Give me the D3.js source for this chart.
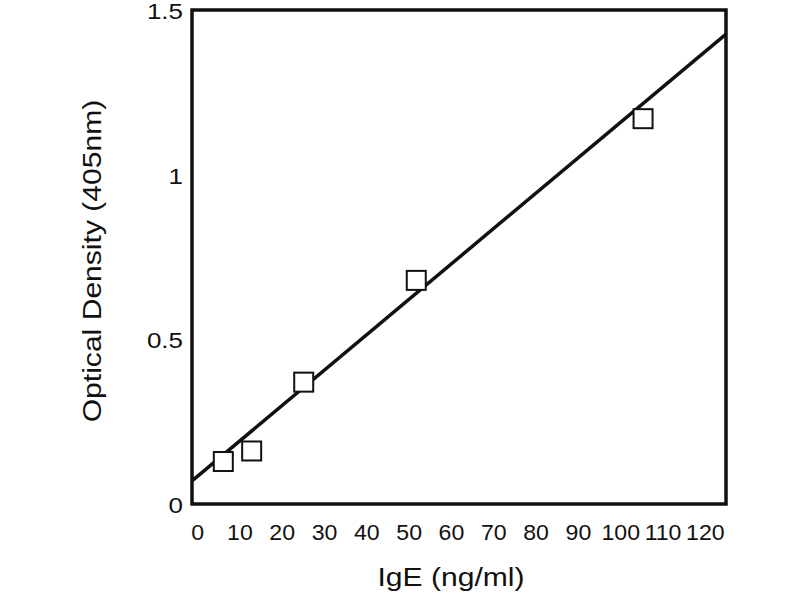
<!DOCTYPE html>
<html>
<head>
    <meta charset="utf-8">
    <style>
        body { margin: 0; background: white; }
        svg { font-family: 'Liberation Sans', Arial, sans-serif; }
    </style>
</head>
<body>
    <svg width="800" height="600"></svg>

<script src="https://d3js.org/d3.v7.min.js"></script>
<script>
    // standard curve points
    let ige = [6.2, 12.9, 25.2, 51.8, 105.4];
    let od = [0.129, 0.161, 0.370, 0.679, 1.170];

    // fitted line, ends at the frame edges
    let fitX = [-1.2, 125.0];
    let fitY = [0.070, 1.427];

    let xTicks = [0, 10, 20, 30, 40, 50, 60, 70, 80, 90, 100, 110, 120];
    let yTicks = [0, 0.5, 1, 1.5];

    let margin = {top: 10, bottom: 96, left: 192, right: 74};
    let w = 800, h = 600;
    let stretch = 1.18; // the original lettering is a bit wide

    let svg = d3.select("svg");

    let x = d3.scaleLinear()
        .domain([-1.2, 125.0])
        .range([margin.left, w - margin.right]);

    let y = d3.scaleLinear()
        .domain([0, 1.5])
        .range([h - margin.bottom, margin.top]);

    // y tick labels
    svg.append("g")
        .attr("transform", "translate(" + (margin.left - 9) + ",0)")
        .call(d3.axisLeft(y).tickValues(yTicks).tickSize(0).tickPadding(0)
            .tickFormat(d => d3.format("")(d)))
        .call(g => g.select(".domain").remove())
        .selectAll("text")
        .attr("font-size", 22)
        .attr("font-family", "'Liberation Sans', Arial, sans-serif")
        .attr("fill", "#111")
        .attr("dy", "0.38em")
        .attr("transform", "scale(" + stretch + ",1)");

    // x tick labels (tighter, they sit close together)
    svg.append("g")
        .attr("transform", "translate(0," + (h - margin.bottom) + ")")
        .call(d3.axisBottom(x).tickValues(xTicks).tickSize(0).tickPadding(20))
        .call(g => g.select(".domain").remove())
        .selectAll("text")
        .attr("font-size", 22)
        .attr("font-family", "'Liberation Sans', Arial, sans-serif")
        .attr("fill", "#111")
        .attr("transform", "scale(1.05,1)");

    // regression line
    svg.append("line")
        .attr("x1", x(fitX[0])).attr("y1", y(fitY[0]))
        .attr("x2", x(fitX[1])).attr("y2", y(fitY[1]))
        .attr("stroke", "#111")
        .attr("stroke-width", 3.5);

    // open squares
    let s = 19;
    svg.append("g")
        .selectAll("rect")
        .data(ige)
        .join("rect")
        .attr("x", (d, i) => x(d) - s / 2)
        .attr("y", (d, i) => y(od[i]) - s / 2)
        .attr("width", s)
        .attr("height", s)
        .attr("fill", "white")
        .attr("stroke", "#111")
        .attr("stroke-width", 2);

    // frame
    svg.append("rect")
        .attr("x", margin.left)
        .attr("y", margin.top)
        .attr("width", w - margin.left - margin.right)
        .attr("height", h - margin.top - margin.bottom)
        .attr("fill", "none")
        .attr("stroke", "#111")
        .attr("stroke-width", 3.5);

    // axis titles
    svg.append("text")
        .attr("transform", "translate(451,586) scale(" + stretch + ",1)")
        .attr("text-anchor", "middle")
        .attr("font-size", 25.5)
        .attr("fill", "#111")
        .text("IgE (ng/ml)");

    svg.append("text")
        .attr("transform", "translate(101,261) rotate(-90) scale(" + stretch + ",1)")
        .attr("text-anchor", "middle")
        .attr("font-size", 25.5)
        .attr("fill", "#111")
        .text("Optical Density (405nm)");
</script>
</body>
</html>
